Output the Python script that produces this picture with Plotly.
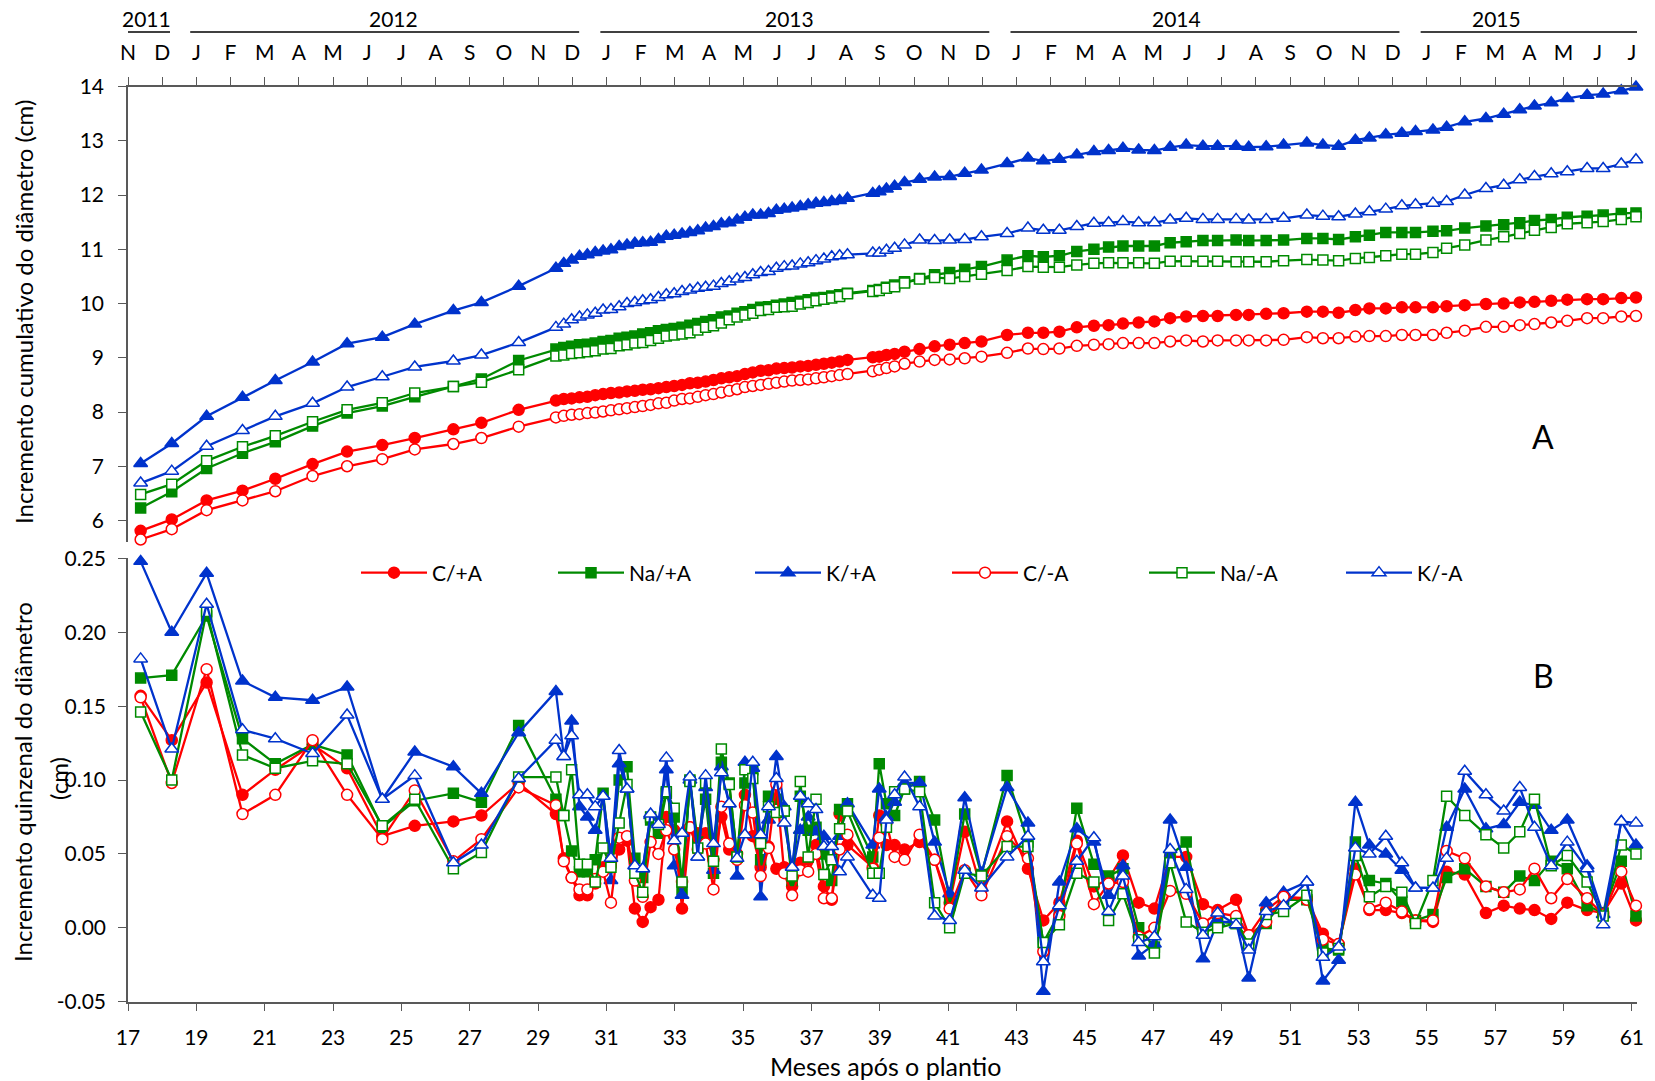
import plotly.graph_objects as go

# ---------------- data ----------------
months = [17.37, 18.28, 19.30, 20.35, 21.31, 22.40, 23.41, 24.44, 25.39, 26.52, 27.34, 28.43,
          29.52, 29.75, 29.98, 30.21, 30.44, 30.67, 30.90, 31.13, 31.37, 31.60, 31.83, 32.06,
          32.29, 32.52, 32.75, 32.98, 33.21, 33.44, 33.67, 33.90, 34.13, 34.36, 34.59, 34.82,
          35.05, 35.28, 35.51, 35.74, 35.97, 36.20, 36.43, 36.67, 36.90, 37.13, 37.36, 37.59,
          37.82, 38.05,
          38.79, 38.98, 39.19, 39.43, 39.72, 40.16, 40.60, 41.04, 41.48, 41.97,
          42.72, 43.33, 43.78, 44.25, 44.76, 45.26, 45.69, 46.11, 46.57, 47.03, 47.49, 47.96,
          48.45, 48.88, 49.42, 49.79, 50.30, 50.81, 51.49, 51.96, 52.42, 52.91, 53.32, 53.80,
          54.27, 54.67, 55.18, 55.58, 56.11, 56.73, 57.25, 57.72, 58.15, 58.64, 59.11, 59.69,
          60.16, 60.69, 61.12]

# Panel A: cumulative diameter increment (cm)
cum_c_pos = [5.81, 6.02, 6.37, 6.55, 6.77, 7.04, 7.27, 7.39, 7.52, 7.68, 7.80, 8.04,
             8.21, 8.24, 8.25, 8.27, 8.28, 8.31, 8.33, 8.35, 8.36, 8.38, 8.39, 8.41, 8.42, 8.44,
             8.46, 8.48, 8.50, 8.53, 8.54, 8.56, 8.59, 8.62, 8.64, 8.66, 8.70, 8.73, 8.76, 8.77,
             8.80, 8.81, 8.82, 8.84, 8.85, 8.87, 8.89, 8.91, 8.93, 8.96,
             9.01, 9.02, 9.05, 9.07, 9.11, 9.16, 9.21, 9.24, 9.27, 9.30,
             9.42, 9.46, 9.46, 9.48, 9.56, 9.59, 9.60, 9.63, 9.65, 9.67, 9.73, 9.76, 9.77, 9.77,
             9.79, 9.79, 9.81, 9.82, 9.85, 9.85, 9.83, 9.88, 9.91, 9.91, 9.93, 9.93, 9.93, 9.95,
             9.97, 9.99, 10.00, 10.02, 10.03, 10.05, 10.07, 10.08, 10.08, 10.10, 10.11]
cum_na_pos = [6.23, 6.53, 6.96, 7.24, 7.45, 7.74, 7.98, 8.11, 8.28, 8.47, 8.61, 8.95,
              9.16, 9.19, 9.21, 9.24, 9.25, 9.27, 9.30, 9.32, 9.36, 9.38, 9.40, 9.44, 9.46, 9.50,
              9.52, 9.54, 9.56, 9.60, 9.63, 9.67, 9.70, 9.75, 9.77, 9.82, 9.85, 9.89, 9.93, 9.94,
              9.97, 9.99, 10.02, 10.04, 10.07, 10.10, 10.11, 10.14, 10.16, 10.19,
              10.24, 10.26, 10.30, 10.34, 10.40, 10.46, 10.53, 10.57, 10.63, 10.68,
              10.80, 10.88, 10.86, 10.88, 10.96, 11.00, 11.04, 11.06, 11.06, 11.06, 11.12, 11.14,
              11.16, 11.16, 11.17, 11.16, 11.16, 11.17, 11.20, 11.20, 11.18, 11.23, 11.26, 11.31,
              11.31, 11.31, 11.33, 11.34, 11.39, 11.43, 11.45, 11.49, 11.53, 11.55, 11.59, 11.61,
              11.63, 11.66, 11.67]
cum_k_pos = [7.05, 7.42, 7.92, 8.27, 8.58, 8.92, 9.26, 9.38, 9.62, 9.87, 10.02, 10.32,
             10.65, 10.74, 10.80, 10.87, 10.90, 10.94, 10.97, 10.99, 11.05, 11.08, 11.11, 11.12,
             11.13, 11.18, 11.24, 11.26, 11.28, 11.31, 11.34, 11.39, 11.42, 11.47, 11.49, 11.54,
             11.59, 11.63, 11.63, 11.66, 11.72, 11.74, 11.76, 11.79, 11.82, 11.85, 11.86, 11.88,
             11.90, 11.94,
             12.03, 12.06, 12.11, 12.16, 12.23, 12.29, 12.33, 12.34, 12.40, 12.46,
             12.58, 12.68, 12.63, 12.66, 12.74, 12.80, 12.82, 12.86, 12.83, 12.82, 12.88, 12.92,
             12.90, 12.90, 12.90, 12.88, 12.89, 12.92, 12.96, 12.92, 12.90, 13.01, 13.05, 13.11,
             13.14, 13.17, 13.20, 13.25, 13.35, 13.41, 13.49, 13.57, 13.64, 13.70, 13.78, 13.84,
             13.86, 13.92, 13.99]
cum_c_neg = [5.65, 5.84, 6.19, 6.37, 6.54, 6.82, 7.00, 7.13, 7.31, 7.41, 7.52, 7.73,
             7.90, 7.93, 7.95, 7.96, 7.98, 7.99, 8.01, 8.03, 8.05, 8.07, 8.09, 8.11, 8.13, 8.16,
             8.17, 8.21, 8.24, 8.25, 8.28, 8.31, 8.33, 8.36, 8.39, 8.42, 8.46, 8.48, 8.50, 8.52,
             8.54, 8.56, 8.58, 8.59, 8.60, 8.62, 8.64, 8.66, 8.68, 8.70,
             8.75, 8.78, 8.81, 8.84, 8.89, 8.93, 8.96, 8.97, 8.99, 9.02,
             9.09, 9.17, 9.16, 9.17, 9.22, 9.24, 9.25, 9.27, 9.27, 9.27, 9.30, 9.32, 9.30, 9.32,
             9.32, 9.32, 9.32, 9.33, 9.38, 9.36, 9.36, 9.39, 9.40, 9.40, 9.42, 9.42, 9.42, 9.46,
             9.50, 9.57, 9.57, 9.60, 9.62, 9.65, 9.68, 9.73, 9.73, 9.76, 9.77]
cum_na_neg = [6.48, 6.67, 7.10, 7.36, 7.56, 7.82, 8.04, 8.17, 8.35, 8.47, 8.55, 8.78,
              9.03, 9.05, 9.08, 9.09, 9.11, 9.13, 9.16, 9.17, 9.22, 9.24, 9.27, 9.28, 9.32, 9.36,
              9.40, 9.42, 9.44, 9.46, 9.51, 9.56, 9.59, 9.64, 9.70, 9.75, 9.79, 9.82, 9.87, 9.89,
              9.93, 9.94, 9.95, 9.99, 10.02, 10.05, 10.08, 10.10, 10.13, 10.18,
              10.22, 10.24, 10.28, 10.31, 10.38, 10.45, 10.48, 10.46, 10.50, 10.54,
              10.61, 10.68, 10.67, 10.67, 10.71, 10.74, 10.75, 10.75, 10.75, 10.74, 10.78, 10.78,
              10.78, 10.78, 10.77, 10.77, 10.77, 10.79, 10.81, 10.80, 10.79, 10.83, 10.85, 10.88,
              10.91, 10.91, 10.94, 11.02, 11.08, 11.17, 11.23, 11.29, 11.35, 11.40, 11.47, 11.49,
              11.51, 11.55, 11.60]
cum_k_neg = [6.69, 6.91, 7.37, 7.66, 7.92, 8.16, 8.46, 8.65, 8.83, 8.94, 9.05, 9.28,
             9.56, 9.62, 9.70, 9.75, 9.79, 9.82, 9.88, 9.89, 9.94, 10.00, 10.02, 10.05, 10.07,
             10.11, 10.16, 10.18, 10.22, 10.25, 10.28, 10.30, 10.32, 10.37, 10.40, 10.45, 10.48,
             10.53, 10.57, 10.59, 10.65, 10.68, 10.69, 10.73, 10.75, 10.79, 10.82, 10.86, 10.88,
             10.90,
             10.93, 10.93, 10.98, 11.02, 11.08, 11.17, 11.16, 11.17, 11.18, 11.23,
             11.29, 11.39, 11.35, 11.35, 11.42, 11.48, 11.49, 11.51, 11.49, 11.49, 11.54, 11.57,
             11.55, 11.55, 11.55, 11.54, 11.55, 11.57, 11.63, 11.61, 11.60, 11.65, 11.69, 11.74,
             11.80, 11.82, 11.85, 11.88, 12.00, 12.12, 12.18, 12.28, 12.34, 12.39, 12.43, 12.49,
             12.49, 12.57, 12.65]

# Panel B: fortnightly diameter increment (cm)
inc_c_pos = [0.157, 0.127, 0.166, 0.090, 0.107, 0.124, 0.108, 0.062, 0.069, 0.072, 0.076, 0.098,
             0.077, 0.047, 0.034, 0.022, 0.022, 0.030, 0.041, 0.053, 0.053, 0.059, 0.013, 0.004,
             0.014, 0.019, 0.075, 0.066, 0.013, 0.068, 0.064, 0.064, 0.046, 0.075, 0.053, 0.050,
             0.090, 0.062, 0.041, 0.055, 0.040, 0.041, 0.028, 0.044, 0.046, 0.056, 0.028, 0.019,
             0.077, 0.056,
             0.041, 0.076, 0.056, 0.056, 0.053, 0.058, 0.046, 0.017, 0.065, 0.026,
             0.072, 0.040, 0.005, 0.017, 0.059, 0.028, 0.033, 0.049, 0.017, 0.013, 0.048, 0.048,
             0.016, 0.012, 0.019, -0.005, 0.012, 0.021, 0.020, -0.004, -0.011, 0.040, 0.012, 0.012,
             0.010, 0.005, 0.004, 0.038, 0.036, 0.010, 0.015, 0.013, 0.012, 0.006, 0.017, 0.012,
             0.010, 0.030, 0.005]
inc_na_pos = [0.169, 0.171, 0.211, 0.128, 0.111, 0.124, 0.117, 0.068, 0.086, 0.091, 0.085, 0.137,
              0.087, 0.076, 0.052, 0.038, 0.038, 0.046, 0.091, 0.044, 0.100, 0.109, 0.047, 0.034,
              0.073, 0.064, 0.091, 0.075, 0.026, 0.100, 0.058, 0.087, 0.037, 0.112, 0.098, 0.048,
              0.098, 0.107, 0.046, 0.089, 0.087, 0.079, 0.032, 0.089, 0.066, 0.068, 0.050, 0.032,
              0.080, 0.084,
              0.048, 0.111, 0.084, 0.076, 0.094, 0.099, 0.073, 0.019, 0.077, 0.036,
              0.103, 0.058, -0.010, 0.010, 0.081, 0.043, 0.035, 0.040, 0.000, -0.013, 0.049, 0.058,
              -0.002, 0.004, 0.003, -0.008, 0.003, 0.019, 0.019, -0.014, -0.015, 0.058, 0.032, 0.030,
              0.018, 0.005, 0.009, 0.034, 0.040, 0.028, 0.024, 0.035, 0.032, 0.045, 0.040, 0.015,
              0.010, 0.045, 0.008]
inc_k_pos = [0.248, 0.200, 0.240, 0.167, 0.156, 0.154, 0.163, 0.087, 0.119, 0.109, 0.091, 0.132,
             0.160, 0.116, 0.140, 0.082, 0.075, 0.066, 0.089, 0.032, 0.111, 0.094, 0.042, 0.040,
             0.076, 0.071, 0.107, 0.042, 0.022, 0.100, 0.048, 0.095, 0.039, 0.109, 0.084, 0.035,
             0.112, 0.108, 0.021, 0.073, 0.116, 0.082, 0.037, 0.066, 0.075, 0.065, 0.062, 0.055,
             0.062, 0.084,
             0.056, 0.094, 0.075, 0.085, 0.098, 0.098, 0.058, 0.023, 0.088, 0.037,
             0.095, 0.071, -0.043, 0.031, 0.067, 0.058, 0.022, 0.042, -0.019, -0.011, 0.073, 0.041,
             -0.021, 0.004, 0.004, -0.034, 0.017, 0.024, 0.031, -0.036, -0.022, 0.085, 0.056, 0.050,
             0.039, 0.027, 0.027, 0.068, 0.094, 0.067, 0.070, 0.085, 0.083, 0.066, 0.073, 0.042,
             0.009, 0.072, 0.056]
inc_c_neg = [0.156, 0.098, 0.175, 0.077, 0.090, 0.127, 0.090, 0.060, 0.093, 0.045, 0.060, 0.095,
             0.083, 0.045, 0.034, 0.026, 0.026, 0.033, 0.038, 0.017, 0.061, 0.062, 0.032, 0.021,
             0.058, 0.050, 0.066, 0.053, 0.031, 0.068, 0.053, 0.057, 0.026, 0.082, 0.057, 0.046,
             0.083, 0.078, 0.035, 0.054, 0.097, 0.037, 0.022, 0.039, 0.038, 0.050, 0.020, 0.020,
             0.053, 0.063,
             0.040, 0.061, 0.071, 0.048, 0.046, 0.063, 0.046, 0.013, 0.039, 0.022,
             0.062, 0.047, -0.016, 0.008, 0.057, 0.016, 0.030, 0.031, -0.006, 0.000, 0.025, 0.023,
             0.003, 0.010, 0.008, -0.005, 0.004, 0.021, 0.019, -0.008, -0.011, 0.036, 0.013, 0.017,
             0.011, 0.005, 0.005, 0.052, 0.047, 0.028, 0.024, 0.026, 0.040, 0.020, 0.033, 0.020,
             0.009, 0.038, 0.015]
inc_na_neg = [0.146, 0.100, 0.214, 0.117, 0.108, 0.113, 0.111, 0.069, 0.087, 0.040, 0.051, 0.102,
              0.102, 0.076, 0.107, 0.043, 0.043, 0.031, 0.054, 0.041, 0.071, 0.097, 0.037, 0.024,
              0.075, 0.070, 0.092, 0.081, 0.031, 0.099, 0.054, 0.098, 0.045, 0.121, 0.097, 0.048,
              0.107, 0.101, 0.057, 0.082, 0.078, 0.079, 0.035, 0.099, 0.048, 0.087, 0.036, 0.046,
              0.067, 0.079,
              0.037, 0.037, 0.068, 0.092, 0.094, 0.092, 0.017, 0.000, 0.037, 0.035,
              0.055, 0.055, -0.010, 0.002, 0.037, 0.031, 0.005, 0.023, -0.008, -0.017, 0.044, 0.004,
              -0.003, 0.000, 0.003, -0.011, 0.009, 0.011, 0.022, -0.017, -0.014, 0.049, 0.021, 0.028,
              0.024, 0.003, 0.032, 0.089, 0.076, 0.063, 0.054, 0.065, 0.087, 0.042, 0.049, 0.031,
              0.008, 0.056, 0.050]
inc_k_neg = [0.182, 0.121, 0.219, 0.134, 0.128, 0.118, 0.144, 0.087, 0.103, 0.044, 0.056, 0.101,
             0.127, 0.116, 0.130, 0.090, 0.090, 0.082, 0.089, 0.047, 0.120, 0.094, 0.042, 0.040,
             0.077, 0.070, 0.115, 0.059, 0.064, 0.102, 0.048, 0.103, 0.057, 0.105, 0.084, 0.047,
             0.063, 0.112, 0.063, 0.082, 0.101, 0.071, 0.041, 0.089, 0.084, 0.080, 0.055, 0.055,
             0.038, 0.048,
             0.022, 0.020, 0.073, 0.090, 0.102, 0.082, 0.008, 0.005, 0.039, 0.027,
             0.048, 0.062, -0.023, 0.015, 0.045, 0.061, 0.011, 0.035, -0.010, -0.006, 0.053, 0.026,
             -0.005, 0.010, 0.002, -0.015, 0.011, 0.015, 0.031, -0.020, -0.013, 0.054, 0.050, 0.062,
             0.044, 0.027, 0.027, 0.047, 0.106, 0.090, 0.079, 0.095, 0.068, 0.042, 0.058, 0.040,
             0.002, 0.072, 0.071]

series_names = ["C/+A", "Na/+A", "K/+A", "C/-A", "Na/-A", "K/-A"]

# axis ticks / labels
month_ticks = list(range(17, 62))
month_letters = ["N", "D",
                 "J", "F", "M", "A", "M", "J", "J", "A", "S", "O", "N", "D",
                 "J", "F", "M", "A", "M", "J", "J", "A", "S", "O", "N", "D",
                 "J", "F", "M", "A", "M", "J", "J", "A", "S", "O", "N", "D",
                 "J", "F", "M", "A", "M", "J", "J"]
year_labels = ["2011", "2012", "2013", "2014", "2015"]
year_first_month = [17, 19, 31, 43, 55]
year_last_month = [18, 30, 42, 54, 61]
bottom_ticks = list(range(17, 62, 2))
cum_ticks = [6, 7, 8, 9, 10, 11, 12, 13, 14]
inc_ticks = [-0.05, 0.0, 0.05, 0.10, 0.15, 0.20, 0.25]
inc_tick_text = ["-0.05", "0.00", "0.05", "0.10", "0.15", "0.20", "0.25"]

# ---------------- styling ----------------
RED, GREEN, BLUE = "#FF0000", "#008A00", "#0033CC"
FONT = "Lato"
AX = "#595959"
W, H = 1655, 1081
XD = [128 / W, 1637 / W]
YD_TOP = [(H - 542.2) / H, (H - 86.5) / H]
YD_BOT = [(H - 1001.7) / H, (H - 558.4) / H]

styles = [
    dict(color=RED, symbol="circle", size=11, fill=RED),
    dict(color=GREEN, symbol="square", size=10, fill=GREEN),
    dict(color=BLUE, symbol="triangle-up", size=12, fill=BLUE),
    dict(color=RED, symbol="circle", size=11, fill="white"),
    dict(color=GREEN, symbol="square", size=10, fill="white"),
    dict(color=BLUE, symbol="triangle-up", size=12, fill="white"),
]

cum_series = [cum_c_pos, cum_na_pos, cum_k_pos, cum_c_neg, cum_na_neg, cum_k_neg]
inc_series = [inc_c_pos, inc_na_pos, inc_k_pos, inc_c_neg, inc_na_neg, inc_k_neg]

fig = go.Figure()
for name, st, ys in zip(series_names, styles, cum_series):
    fig.add_trace(go.Scatter(
        x=months, y=ys, name=name, mode="lines+markers", xaxis="x", yaxis="y",
        showlegend=False, cliponaxis=False,
        line=dict(color=st["color"], width=2.3),
        marker=dict(symbol=st["symbol"], size=st["size"], color=st["fill"],
                    line=dict(color=st["color"], width=1.5))))
for name, st, ys in zip(series_names, styles, inc_series):
    fig.add_trace(go.Scatter(
        x=months, y=ys, name=name, mode="lines+markers", xaxis="x2", yaxis="y2",
        showlegend=True, cliponaxis=False,
        line=dict(color=st["color"], width=2.3),
        marker=dict(symbol=st["symbol"], size=st["size"], color=st["fill"],
                    line=dict(color=st["color"], width=1.5))))

axis_common = dict(showline=True, linecolor=AX, linewidth=1.5, ticks="outside",
                   ticklen=8, tickwidth=1.3, tickcolor=AX, showgrid=False, zeroline=False,
                   automargin=False,
                   tickfont=dict(family=FONT, size=21, color="black"))

annotations = []
shapes = []
year_text_x = [17.55, 24.78, 36.36, 47.67, 57.03]
for lab, tx, m0, m1 in zip(year_labels, year_text_x, year_first_month, year_last_month):
    annotations.append(dict(x=tx, y=(H - 18) / H, xref="x", yref="paper", text=lab,
                            showarrow=False, font=dict(family=FONT, size=21, color="black"),
                            xanchor="center", yanchor="middle"))
    x0 = m0 - 0.18 if lab != "2011" else 16.83
    x1 = m1 + 0.2 if lab != "2011" else 18.23
    shapes.append(dict(type="line", xref="x", yref="paper", x0=x0, x1=x1,
                       y0=(H - 32) / H, y1=(H - 32) / H,
                       line=dict(color="black", width=1.3)))

TITLE = 24
annotations += [
    dict(x=23 / W, y=(H - 312) / H, xref="paper", yref="paper", textangle=-90,
         text="Incremento cumulativo do diâmetro (cm)", showarrow=False,
         font=dict(family=FONT, size=TITLE, color="black"), xanchor="center", yanchor="middle"),
    dict(x=23 / W, y=(H - 782) / H, xref="paper", yref="paper", textangle=-90,
         text="Incremento quinzenal do diâmetro", showarrow=False,
         font=dict(family=FONT, size=TITLE, color="black"), xanchor="center", yanchor="middle"),
    dict(x=58 / W, y=(H - 779) / H, xref="paper", yref="paper", textangle=-90,
         text="(cm)", showarrow=False,
         font=dict(family=FONT, size=TITLE, color="black"), xanchor="center", yanchor="middle"),
    dict(x=885 / W, y=(H - 1066) / H, xref="paper", yref="paper",
         text="Meses após o plantio", showarrow=False,
         font=dict(family=FONT, size=25, color="black"), xanchor="center", yanchor="middle"),
    dict(x=1543 / W, y=(H - 436) / H, xref="paper", yref="paper", text="A",
         showarrow=False, font=dict(family=FONT, size=32, color="black"),
         xanchor="center", yanchor="middle"),
    dict(x=1543 / W, y=(H - 675) / H, xref="paper", yref="paper", text="B",
         showarrow=False, font=dict(family=FONT, size=32, color="black"),
         xanchor="center", yanchor="middle"),
]

fig.update_layout(
    width=W, height=H, margin=dict(l=0, r=0, t=0, b=0, pad=0, autoexpand=False),
    paper_bgcolor="white", plot_bgcolor="white",
    font=dict(family=FONT, size=21, color="black"),
    xaxis=dict(domain=XD, anchor="y", side="top", range=[17, 61.15],
               tickmode="array", tickvals=month_ticks, ticktext=month_letters,
               ticklabelstandoff=8, **axis_common),
    yaxis=dict(domain=YD_TOP, anchor="x", range=[5.6, 14], tickmode="array",
               tickvals=cum_ticks, ticklabelstandoff=10, **axis_common),
    xaxis2=dict(domain=XD, anchor="y2", range=[17, 61.15], tickmode="array",
                tickvals=bottom_ticks, ticklabelstandoff=8, **axis_common),
    yaxis2=dict(domain=YD_BOT, anchor="x2", range=[-0.05, 0.25], tickmode="array",
                tickvals=inc_ticks, ticktext=inc_tick_text, ticklabelstandoff=8,
                **axis_common),
    legend=dict(orientation="h", x=356 / W, y=(H - 573) / H, xanchor="left",
                yanchor="middle", font=dict(family=FONT, size=21, color="black"),
                bgcolor="rgba(0,0,0,0)", entrywidth=116, entrywidthmode="pixels",
                itemwidth=66, tracegroupgap=0),
    annotations=annotations, shapes=shapes,
)

fig.write_html("out.html")
